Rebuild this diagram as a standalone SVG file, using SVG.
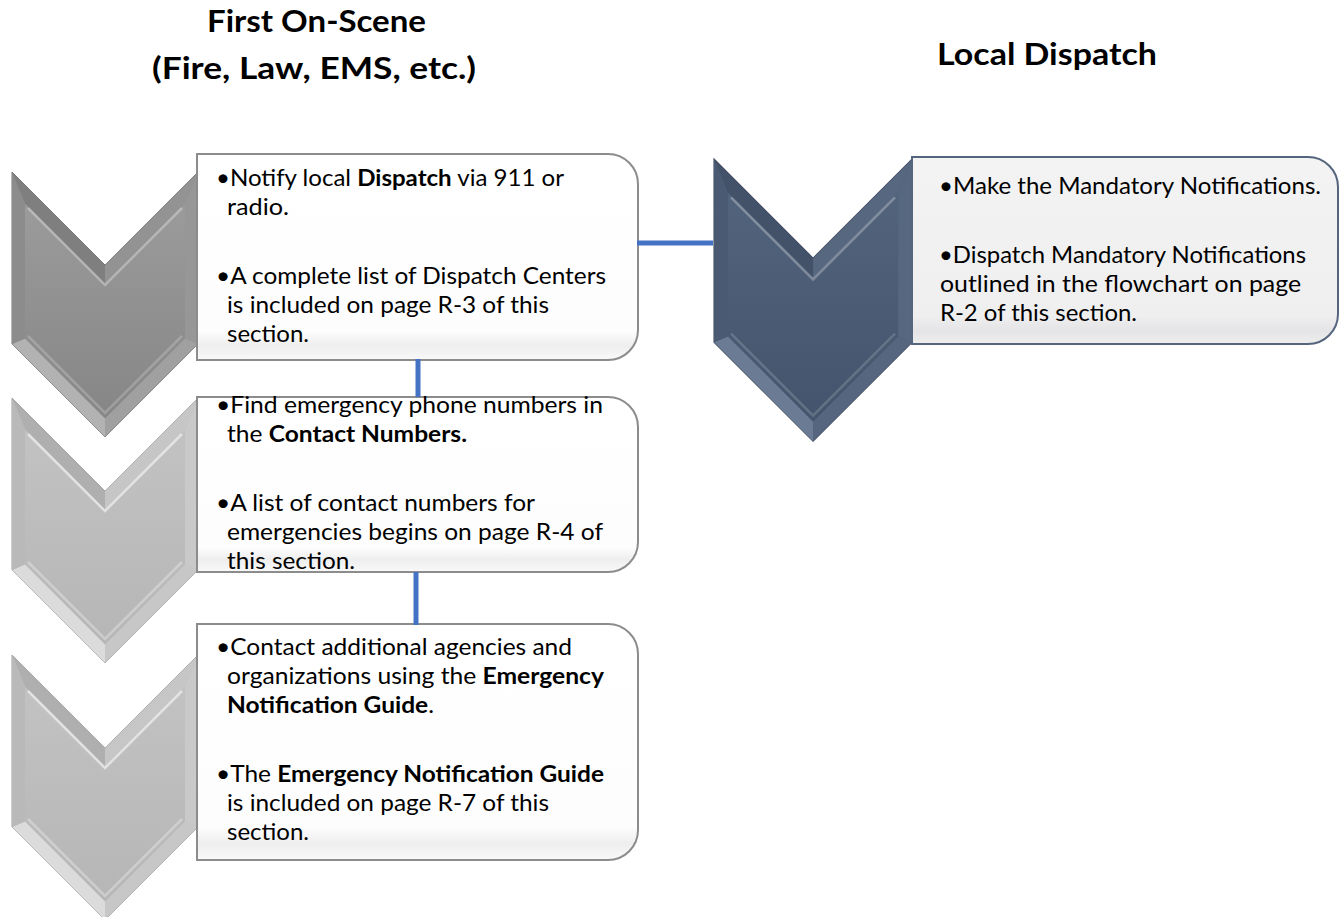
<svg xmlns="http://www.w3.org/2000/svg" xmlns:xlink="http://www.w3.org/1999/xlink" width="1344" height="917" viewBox="0 0 1344 917">
<style>
  text { font-family: Lato, "Liberation Sans", sans-serif; fill: #000; }
  .t { font-size: 23px; }
  .title { font-size: 30px; font-weight: bold; }
  .b { font-weight: bold; }
  .box { fill: url(#boxg); stroke: #8c8c8c; stroke-width: 2; }
  .box4 { fill: url(#boxg4); stroke: #55657d; stroke-width: 2; }
  .conn { stroke: #4472C4; stroke-width: 5; fill: none; }
  .hl { fill: none; stroke: #ffffff; stroke-width: 2.5; stroke-linejoin: miter; }
</style>
<defs>
  <linearGradient id="boxg" x1="0" y1="0" x2="0" y2="1">
    <stop offset="0" stop-color="#ffffff"/>
    <stop offset="0.86" stop-color="#fdfdfd"/>
    <stop offset="0.93" stop-color="#eeeeee"/>
    <stop offset="1" stop-color="#f9f9f9"/>
  </linearGradient>
  <linearGradient id="boxg4" x1="0" y1="0" x2="0" y2="1">
    <stop offset="0" stop-color="#f3f3f4"/>
    <stop offset="0.85" stop-color="#efeff0"/>
    <stop offset="0.93" stop-color="#e4e4e6"/>
    <stop offset="1" stop-color="#eeeeef"/>
  </linearGradient>
  <linearGradient id="faceD" x1="0" y1="0" x2="0" y2="1">
    <stop offset="0" stop-color="#9b9b9b"/>
    <stop offset="1" stop-color="#868686"/>
  </linearGradient>
  <linearGradient id="faceL" x1="0" y1="0" x2="0" y2="1">
    <stop offset="0" stop-color="#c2c2c2"/>
    <stop offset="1" stop-color="#b6b6b6"/>
  </linearGradient>
  <linearGradient id="faceN" x1="0" y1="0" x2="0" y2="1">
    <stop offset="0" stop-color="#52637c"/>
    <stop offset="1" stop-color="#44546c"/>
  </linearGradient>
  <!-- chevron geometry (local coordinates) -->
  <polygon id="cv-out" points="0,0 93,93 186,0 186,172 93,265 0,172"/>
  <polygon id="cv-face" points="13,31.4 93,111.4 173,31.4 173,166.6 93,246.6 13,166.6"/>
  <polygon id="cv-tl" points="0,0 93,93 93,111.4 13,31.4"/>
  <polygon id="cv-tr" points="93,93 186,0 173,31.4 93,111.4"/>
  <polygon id="cv-r" points="186,0 186,172 173,166.6 173,31.4"/>
  <polygon id="cv-br" points="186,172 93,265 93,246.6 173,166.6"/>
  <polygon id="cv-bl" points="93,265 0,172 13,166.6 93,246.6"/>
  <polygon id="cv-l" points="0,172 0,0 13,31.4 13,166.6"/>
  <polyline id="cv-hl" points="16,36 93,113 170,36"/>
  <polyline id="cv-hl2" points="16,164 93,241 170,164"/>
</defs>

<!-- column titles -->
<g id="title-first">
  <text class="title" x="207" y="32" textLength="219" lengthAdjust="spacingAndGlyphs">First On-Scene</text>
  <text class="title" x="152" y="79" textLength="324" lengthAdjust="spacingAndGlyphs">(Fire, Law, EMS, etc.)</text>
</g>
<g id="title-dispatch">
  <text class="title" x="937" y="65" textLength="220" lengthAdjust="spacingAndGlyphs">Local Dispatch</text>
</g>

<!-- step 1 -->
<g id="step1">
  <g transform="translate(12,172)">
    <use href="#cv-out" fill="#8a8a8a" stroke="#707070" stroke-width="1"/>
    <use href="#cv-face" fill="url(#faceD)"/>
    <use href="#cv-tl" fill="#7f7f7f"/>
    <use href="#cv-tr" fill="#939393"/>
    <use href="#cv-r" fill="#979797"/>
    <use href="#cv-br" fill="#a0a0a0"/>
    <use href="#cv-bl" fill="#b2b2b2"/>
    <use href="#cv-l" fill="#8c8c8c"/>
    <use href="#cv-hl" class="hl" stroke-opacity="0.3"/>
    <use href="#cv-hl2" class="hl" stroke-opacity="0.2"/>
  </g>
  <path class="box" d="M197,154 H608 A30,30 0 0 1 638,184 V330 A30,30 0 0 1 608,360 H197 Z"/>
  <text class="t" x="216" y="186" textLength="348" lengthAdjust="spacingAndGlyphs">•Notify local <tspan class="b">Dispatch</tspan> via 911 or</text>
  <text class="t" x="227" y="215" textLength="62" lengthAdjust="spacingAndGlyphs">radio.</text>
  <text class="t" x="216" y="284" textLength="390" lengthAdjust="spacingAndGlyphs">•A complete list of Dispatch Centers</text>
  <text class="t" x="227" y="313" textLength="322" lengthAdjust="spacingAndGlyphs">is included on page R-3 of this</text>
  <text class="t" x="227" y="342" textLength="82" lengthAdjust="spacingAndGlyphs">section.</text>
</g>

<!-- step 2 -->
<g id="step2">
  <g transform="translate(12,398)">
    <use href="#cv-out" fill="#bdbdbd" stroke="#9c9c9c" stroke-width="1"/>
    <use href="#cv-face" fill="url(#faceL)"/>
    <use href="#cv-tl" fill="#afafaf"/>
    <use href="#cv-tr" fill="#c6c6c6"/>
    <use href="#cv-r" fill="#c9c9c9"/>
    <use href="#cv-br" fill="#c7c7c7"/>
    <use href="#cv-bl" fill="#dbdbdb"/>
    <use href="#cv-l" fill="#b9b9b9"/>
    <use href="#cv-hl" class="hl" stroke-opacity="0.55"/>
    <use href="#cv-hl2" class="hl" stroke-opacity="0.3"/>
  </g>
  <path class="box" d="M197,397 H608 A30,30 0 0 1 638,427 V542 A30,30 0 0 1 608,572 H197 Z"/>
  <text class="t" x="216" y="413" textLength="387" lengthAdjust="spacingAndGlyphs">•Find emergency phone numbers in</text>
  <text class="t" x="227" y="442" textLength="240" lengthAdjust="spacingAndGlyphs">the <tspan class="b">Contact Numbers.</tspan></text>
  <text class="t" x="216" y="511" textLength="319" lengthAdjust="spacingAndGlyphs">•A list of contact numbers for</text>
  <text class="t" x="227" y="540" textLength="376" lengthAdjust="spacingAndGlyphs">emergencies begins on page R-4 of</text>
  <text class="t" x="227" y="569" textLength="128" lengthAdjust="spacingAndGlyphs">this section.</text>
</g>

<!-- step 3 -->
<g id="step3">
  <g transform="translate(12,655)">
    <use href="#cv-out" fill="#bdbdbd" stroke="#9c9c9c" stroke-width="1"/>
    <use href="#cv-face" fill="url(#faceL)"/>
    <use href="#cv-tl" fill="#afafaf"/>
    <use href="#cv-tr" fill="#c6c6c6"/>
    <use href="#cv-r" fill="#c9c9c9"/>
    <use href="#cv-br" fill="#c7c7c7"/>
    <use href="#cv-bl" fill="#dbdbdb"/>
    <use href="#cv-l" fill="#b9b9b9"/>
    <use href="#cv-hl" class="hl" stroke-opacity="0.55"/>
    <use href="#cv-hl2" class="hl" stroke-opacity="0.3"/>
  </g>
  <path class="box" d="M197,624 H608 A30,30 0 0 1 638,654 V830 A30,30 0 0 1 608,860 H197 Z"/>
  <text class="t" x="216" y="655" textLength="356" lengthAdjust="spacingAndGlyphs">•Contact additional agencies and</text>
  <text class="t" x="227" y="684" textLength="377" lengthAdjust="spacingAndGlyphs">organizations using the <tspan class="b">Emergency</tspan></text>
  <text class="t" x="227" y="713" textLength="207" lengthAdjust="spacingAndGlyphs"><tspan class="b">Notification Guide</tspan>.</text>
  <text class="t" x="216" y="782" textLength="388" lengthAdjust="spacingAndGlyphs">•The <tspan class="b">Emergency Notification Guide</tspan></text>
  <text class="t" x="227" y="811" textLength="322" lengthAdjust="spacingAndGlyphs">is included on page R-7 of this</text>
  <text class="t" x="227" y="840" textLength="82" lengthAdjust="spacingAndGlyphs">section.</text>
</g>

<!-- local dispatch -->
<g id="dispatch">
  <g transform="translate(714,159) scale(1.065)">
    <use href="#cv-out" fill="#4b5c74" stroke="#394659" stroke-width="1"/>
    <use href="#cv-face" fill="url(#faceN)"/>
    <use href="#cv-tl" fill="#435269"/>
    <use href="#cv-tr" fill="#56677f"/>
    <use href="#cv-r" fill="#566780"/>
    <use href="#cv-br" fill="#56667e"/>
    <use href="#cv-bl" fill="#6a7b93"/>
    <use href="#cv-l" fill="#4a5a72"/>
    <use href="#cv-hl" class="hl" stroke-opacity="0.28"/>
    <use href="#cv-hl2" class="hl" stroke-opacity="0.16"/>
  </g>
  <path class="box4" d="M912,157 H1308 A30,30 0 0 1 1338,187 V314 A30,30 0 0 1 1308,344 H912 Z"/>
  <text class="t" x="939" y="194" textLength="382" lengthAdjust="spacingAndGlyphs">•Make the Mandatory Notifications.</text>
  <text class="t" x="939" y="263" textLength="367" lengthAdjust="spacingAndGlyphs">•Dispatch Mandatory Notifications</text>
  <text class="t" x="940" y="292" textLength="361" lengthAdjust="spacingAndGlyphs">outlined in the flowchart on page</text>
  <text class="t" x="940" y="321" textLength="197" lengthAdjust="spacingAndGlyphs">R-2 of this section.</text>
</g>

<!-- connectors -->
<g id="connectors">
  <line class="conn" x1="637" y1="243" x2="713" y2="243"/>
  <line class="conn" x1="418" y1="359" x2="418" y2="397"/>
  <line class="conn" x1="416" y1="572" x2="416" y2="625"/>
</g>
</svg>
